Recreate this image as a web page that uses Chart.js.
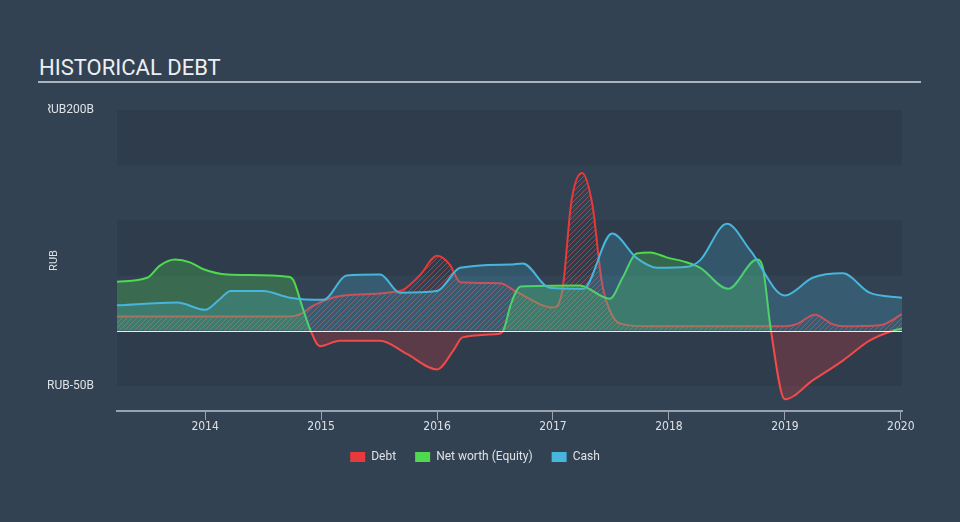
<!DOCTYPE html>
<html>
<head>
<meta charset="utf-8">
<script src="https://cdn.jsdelivr.net/npm/chart.js@4.4.0/dist/chart.umd.min.js"></script>
<style>
    html, body { margin: 0; padding: 0; background: #334253; }
    #wrap { position: relative; width: 960px; height: 522px; overflow: hidden; }
    #title { position: absolute; left: 39px; top: 57px; font: 22px/22px Roboto, sans-serif; color: #eceff1; }
    #rule { position: absolute; left: 38px; top: 81px; width: 883px; height: 2px; background: #aab2bc; }
    canvas { position: absolute; left: 0; top: 0; }
</style>
</head>
<body>
<div id="wrap">
    <div id="title">HISTORICAL DEBT</div>
    <div id="rule"></div>
    <canvas id="chart" width="960" height="522"></canvas>
</div>
<script>
// Tick labels
const yearTicks = [2014, 2015, 2016, 2017, 2018, 2019, 2020];
const valueTicks = [-50, 200];

// Debt (RUB B)
const debtX = [2013.24, 2013.96, 2014.73, 2014.84, 2014.92, 2015.19, 2015.68, 2015.85, 2016.00, 2016.11, 2016.20, 2016.54, 2016.69, 2017.00, 2017.08, 2017.16, 2017.25, 2017.34, 2017.42, 2017.51, 2017.60, 2017.84, 2018.27, 2019.00, 2019.10, 2019.26, 2019.41, 2019.50, 2019.82, 2020.01];
const debtY = [13, 13, 13, 16, 22, 32, 36, 50, 68, 60, 44, 43, 35, 21, 36, 118, 143, 114, 45, 14, 6, 4, 4, 4, 6, 14.5, 6, 4, 5, 15];

// Net worth (Equity)
const equityX = [2013.24, 2013.50, 2013.61, 2013.74, 2013.87, 2013.98, 2014.19, 2014.71, 2014.76, 2014.84, 2014.91, 2014.99, 2015.16, 2015.51, 2015.74, 2016.00, 2016.14, 2016.22, 2016.52, 2016.57, 2016.64, 2016.72, 2017.23, 2017.49, 2017.60, 2017.72, 2017.84, 2017.98, 2018.15, 2018.27, 2018.51, 2018.76, 2018.81, 2018.88, 2019.00, 2019.24, 2019.50, 2019.73, 2019.93, 2020.01];
const equityY = [44.5, 48, 59, 64.5, 62, 56, 51, 49, 46, 21, 0, -14, -9, -9, -21, -35, -18, -6, -3, 0, 25, 40, 41, 29, 48, 70, 71, 66.5, 62, 57, 38, 64.5, 57, 0, -62, -45, -27, -9, 0, 2];

// Cash
const cashX = [2013.24, 2013.76, 2014.00, 2014.13, 2014.22, 2014.50, 2014.73, 2015.02, 2015.22, 2015.51, 2015.68, 2016.00, 2016.20, 2016.63, 2016.74, 2016.97, 2017.26, 2017.51, 2017.72, 2017.90, 2018.16, 2018.27, 2018.50, 2018.70, 2019.00, 2019.24, 2019.50, 2019.73, 2020.01];
const cashY = [23, 25.5, 19, 29, 36, 36, 30, 28, 50, 51, 34.5, 36, 57, 60, 61, 39, 38, 88, 66, 57, 58, 64, 97, 73, 32, 48, 52, 34.5, 30];

const RED = '#e8393b';
const GREEN = '#4fd94f';
const BLUE = '#47b5dc';
const TEXT = '#dde1e5';

function points(xs, ys) {
    return xs.map((x, i) => ({ x: x, y: ys[i] }));
}

// Diagonal hatch for the debt area
function makeHatch() {
    const size = 5;
    const c = document.createElement('canvas');
    c.width = size;
    c.height = size;
    const g = c.getContext('2d');
    g.strokeStyle = 'rgba(232, 80, 80, 0.55)';
    g.lineWidth = 1;
    g.beginPath();
    g.moveTo(0, size); g.lineTo(size, 0);
    g.moveTo(-1, 1); g.lineTo(1, -1);
    g.moveTo(size - 1, size + 1); g.lineTo(size + 1, size - 1);
    g.stroke();
    return g.createPattern(c, 'repeat');
}

const ctx = document.getElementById('chart').getContext('2d');
const hatch = makeHatch();

// Background bands + zero line
const bandsPlugin = {
    id: 'bands',
    beforeDatasetsDraw(chart) {
        const { ctx, chartArea, scales } = chart;
        const y = scales.y;
        ctx.save();
        ctx.fillStyle = '#2e3c4c';
        [[150, 200], [50, 100], [-50, 0]].forEach(([lo, hi]) => {
            const top = y.getPixelForValue(hi);
            const bottom = y.getPixelForValue(lo);
            ctx.fillRect(chartArea.left, top, chartArea.right - chartArea.left, bottom - top);
        });
        ctx.restore();
    },
    afterDatasetsDraw(chart) {
        const { ctx, chartArea, scales } = chart;
        const y0 = Math.round(scales.y.getPixelForValue(0)) + 0.5;
        ctx.save();
        ctx.strokeStyle = 'rgba(255, 240, 240, 0.95)';
        ctx.lineWidth = 1.2;
        ctx.beginPath();
        ctx.moveTo(chartArea.left, y0);
        ctx.lineTo(chartArea.right, y0);
        ctx.stroke();
        ctx.restore();
    }
};

Chart.defaults.font.family = 'Roboto, sans-serif';
Chart.defaults.color = TEXT;

const chart = new Chart(ctx, {
    type: 'line',
    data: {
        datasets: [{
            label: 'Debt',
            data: points(debtX, debtY),
            borderColor: RED,
            backgroundColor: hatch,
            borderWidth: 2,
            fill: 'origin',
            order: 3
        }, {
            label: 'Net worth (Equity)',
            data: points(equityX, equityY),
            borderColor: GREEN,
            borderWidth: 2,
            fill: {
                target: 'origin',
                above: 'rgba(79, 217, 79, 0.27)',
                below: 'rgba(232, 57, 59, 0.25)'
            },
            segment: {
                borderColor: c => (c.p0.parsed.y < 0 || c.p1.parsed.y < 0) ? '#f04a4a' : GREEN
            },
            order: 2
        }, {
            label: 'Cash',
            data: points(cashX, cashY),
            borderColor: BLUE,
            backgroundColor: 'rgba(71, 181, 220, 0.22)',
            borderWidth: 2,
            fill: 'origin',
            order: 1
        }]
    },
    options: {
        responsive: false,
        animation: false,
        layout: { padding: { top: 110, right: 58, bottom: 49, left: 48 } },
        elements: {
            point: { radius: 0 },
            line: { cubicInterpolationMode: 'monotone' }
        },
        plugins: {
            tooltip: { enabled: false },
            legend: {
                position: 'bottom',
                labels: {
                    boxWidth: 15,
                    boxHeight: 10,
                    padding: 19,
                    color: TEXT,
                    font: { size: 12 },
                    sort: (a, b) => a.datasetIndex - b.datasetIndex,
                    generateLabels(chart) {
                        const cols = [RED, GREEN, BLUE];
                        return chart.data.datasets.map((ds, i) => ({
                            text: ds.label,
                            fillStyle: cols[i],
                            strokeStyle: cols[i],
                            lineWidth: 0,
                            fontColor: TEXT,
                            datasetIndex: i
                        }));
                    }
                }
            }
        },
        scales: {
            x: {
                type: 'linear',
                min: 2013.24,
                max: 2020.01,
                afterBuildTicks: s => { s.ticks = yearTicks.map(v => ({ value: v })); },
                afterFit: s => { s.height = 21; },
                grid: {
                    drawOnChartArea: false,
                    drawTicks: true,
                    tickLength: 9,
                    color: '#9aa3ad'
                },
                border: { display: true, color: '#9aa3ad', width: 2 },
                ticks: {
                    padding: 0,
                    color: TEXT,
                    font: { family: '"DejaVu Sans Condensed", "Liberation Sans Narrow", sans-serif', size: 12 },
                    callback: v => String(v),
                    maxRotation: 0
                }
            },
            y: {
                min: -72.7,
                max: 200,
                afterBuildTicks: s => { s.ticks = valueTicks.map(v => ({ value: v })); },
                afterFit: s => { s.width = 69; },
                grid: { display: false },
                border: { display: false },
                title: {
                    display: true,
                    text: 'RUB',
                    color: TEXT,
                    font: { size: 11 },
                    padding: { top: 0, bottom: 0 }
                },
                ticks: {
                    padding: 15,
                    color: TEXT,
                    font: { size: 12 },
                    callback: v => 'RUB' + v + 'B'
                }
            }
        }
    },
    plugins: [bandsPlugin]
});
</script>
</body>
</html>
